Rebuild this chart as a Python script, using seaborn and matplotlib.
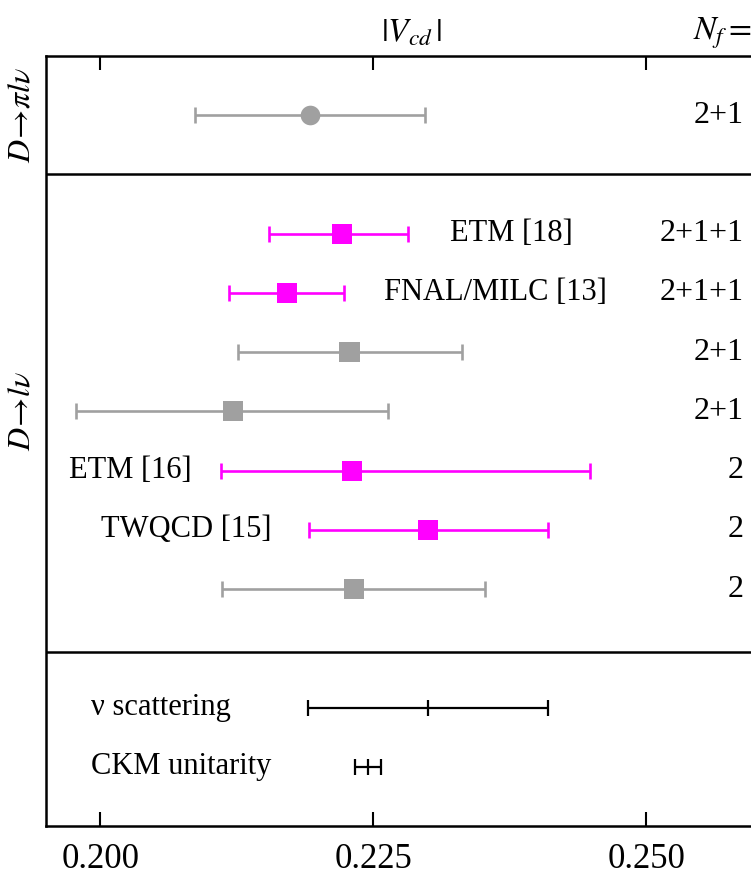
import numpy as np
import pandas as pd
import matplotlib
matplotlib.use("Agg")
import matplotlib.pyplot as plt
import seaborn as sns

# |V_cd| determinations from lattice D-meson decays
names = ["D→πlν", "ETM [18]", "FNAL/MILC [13]", "", "", "ETM [16]", "TWQCD [15]", ""]
vcd_center = [0.2192, 0.2221, 0.2171, 0.2228, 0.2121, 0.2230, 0.2300, 0.2232]
vcd_lo = [0.2087, 0.2154, 0.2118, 0.2126, 0.1978, 0.2110, 0.2191, 0.2111]
vcd_hi = [0.2297, 0.2282, 0.2223, 0.2331, 0.2263, 0.2448, 0.2410, 0.2352]
n_flavours = ["2+1", "2+1+1", "2+1+1", "2+1", "2+1", "2", "2", "2"]
kind = ["other", "this", "this", "other", "other", "this", "this", "other"]
channel = ["pi", "l", "l", "l", "l", "l", "l", "l"]

# non-lattice reference values
ref_names = ["ν scattering", "CKM unitarity"]
ref_center = [0.2300, 0.2245]
ref_err = [0.0110, 0.0012]

xticks = [0.200, 0.225, 0.250]
xtick_labels = ["0.200", "0.225", "0.250"]

# row layout (top to bottom)
row_y = [1, 3, 4, 5, 6, 7, 8, 9]
ref_y = [11, 12]

df = pd.DataFrame({
    "name": names, "vcd": vcd_center, "lo": vcd_lo, "hi": vcd_hi,
    "nf": n_flavours, "kind": kind, "channel": channel, "y": row_y,
})

sns.set_theme(style="ticks")
plt.rcParams["font.family"] = ["Liberation Serif", "DejaVu Serif"]
plt.rcParams["mathtext.fontset"] = "stix"
plt.rcParams["text.color"] = "black"
plt.rcParams["xtick.color"] = "black"
plt.rcParams["xtick.labelcolor"] = "black"

palette = {"this": "#ff00ff", "other": "#a0a0a0"}

fig = plt.figure(figsize=(7.51, 8.76), dpi=100)
ax = fig.add_axes([46 / 751, 50 / 876, 1 - 46 / 751, 770 / 876])

# error bars
for _, r in df.iterrows():
    c = palette[r["kind"]]
    ax.errorbar(r["vcd"], r["y"],
                xerr=[[r["vcd"] - r["lo"]], [r["hi"] - r["vcd"]]],
                fmt="none", ecolor=c, elinewidth=1.9, capsize=5.5, capthick=1.9,
                zorder=2)

# central values
sns.scatterplot(data=df[df.channel == "pi"], x="vcd", y="y", hue="kind",
                palette=palette, marker="o", s=200, linewidth=0, legend=False,
                ax=ax, zorder=3)
sns.scatterplot(data=df[df.channel == "l"], x="vcd", y="y", hue="kind",
                palette=palette, marker="s", s=210, linewidth=0, legend=False,
                ax=ax, zorder=3)

# reference values: black bars with central tick
for yv, cv, ev in zip(ref_y, ref_center, ref_err):
    ax.errorbar(cv, yv, xerr=ev, fmt="none", ecolor="black",
                elinewidth=1.6, capsize=6, capthick=1.6, zorder=2)
    ax.plot([cv], [yv], marker="|", color="black", markersize=12,
            markeredgewidth=1.6, zorder=3)

fs = 22
# study labels
ax.text(0.2320, 3, "ETM [18]", ha="left", va="center", fontsize=fs)
ax.text(0.2260, 4, "FNAL/MILC [13]", ha="left", va="center", fontsize=fs)
ax.text(0.2083, 7, "ETM [16]", ha="right", va="center", fontsize=fs)
ax.text(0.2157, 8, "TWQCD [15]", ha="right", va="center", fontsize=fs)
for yv, nm in zip(ref_y, ref_names):
    ax.text(0.1991, yv, nm, ha="left", va="center", fontsize=fs)

# N_f column
trans = matplotlib.transforms.blended_transform_factory(ax.transAxes, ax.transData)
for yv, nf in zip(row_y, n_flavours):
    ax.text(0.99, yv, nf, ha="right", va="center", fontsize=fs + 1, transform=trans)

# panel separators
for yv in [2, 10.06]:
    ax.axhline(yv, color="black", lw=1.8, zorder=1)

ax.set_xlim(0.19501, 0.25957)
ax.set_ylim(13, 0)
ax.set_xticks(xticks)
ax.set_xticklabels(xtick_labels, fontsize=25, color="black")
ax.set_yticks([])
ax.tick_params(axis="x", direction="in", length=10, width=1.5, top=True,
               bottom=True, labeltop=False, pad=12, colors="black")
for s in ["left", "top", "bottom"]:
    ax.spines[s].set_linewidth(1.8)
    ax.spines[s].set_color("black")
ax.spines["right"].set_visible(False)
ax.set_xlabel("")
ax.set_ylabel("")

# panel titles on the left
ax.text(-0.034, 1, r"$D\!\rightarrow\!\pi l\nu$", rotation=90, ha="center",
        va="center", fontsize=fs + 1, transform=trans)
ax.text(-0.034, 6, r"$D\!\rightarrow\!l\nu$", rotation=90, ha="center",
        va="center", fontsize=fs + 1, transform=trans)

# column headers
fig.text(412 / 751, 1 - 33 / 876, r"$|V_{cd}\,|$", ha="center", va="center",
         fontsize=fs + 2)
fig.text(722 / 751, 1 - 33 / 876, r"$N_f =$", ha="center", va="center",
         fontsize=fs + 2)

fig.savefig("out.png", dpi=100)
